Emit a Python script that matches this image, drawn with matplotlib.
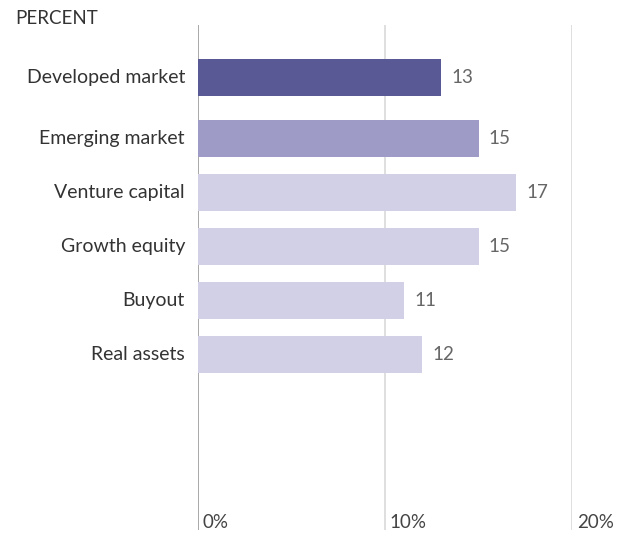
import matplotlib.pyplot as plt

plt.rcParams['font.family'] = ['Lato', 'DejaVu Sans']

categories = ["Developed market", "Emerging market", "Venture capital",
              "Growth equity", "Buyout", "Real assets"]
values = [13, 15, 17, 15, 11, 12]
colors = ["#595996", "#9e9bc6", "#d2d0e6", "#d2d0e6", "#d2d0e6", "#d2d0e6"]
ticks = [0, 10, 20]
tick_labels = ["0%", "10%", "20%"]

fig = plt.figure(figsize=(6.22, 5.34), dpi=100)
W, H = 622, 534
ax = fig.add_axes([198 / W, (H - 530) / H, (572 - 198) / W, (530 - 25) / H])

# first bar is set a little apart from the rest
ypos = [0] + [i + 0.13 for i in range(1, len(categories))]
ax.barh(ypos, values, height=0.69, color=colors, zorder=2)

top = -0.97
bottom = top + 505 / 54
ax.set_xlim(0, 20)
ax.set_ylim(bottom, top)

for x, lab in zip(ticks, tick_labels):
    ax.axvline(x, color="#999999" if x == 0 else "#d9d9d9", lw=1.2, zorder=1)
    ax.text(x + 0.25, bottom + 0.02, lab, ha="left", va="bottom",
            fontsize=13.5, color="#444444", clip_on=False)

for y, v, c in zip(ypos, values, categories):
    ax.text(v + 0.55, y, str(v), ha="left", va="center", fontsize=13.5, color="#666666")
    ax.text(-0.7, y, c, ha="right", va="center", fontsize=14, color="#333333")

for s in ax.spines.values():
    s.set_visible(False)
ax.set_xticks([])
ax.set_yticks([])

fig.text(15 / W, 1 - 19 / H, "PERCENT", ha="left", va="center", fontsize=13.5, color="#333333")

fig.savefig("out.png", dpi=100)
